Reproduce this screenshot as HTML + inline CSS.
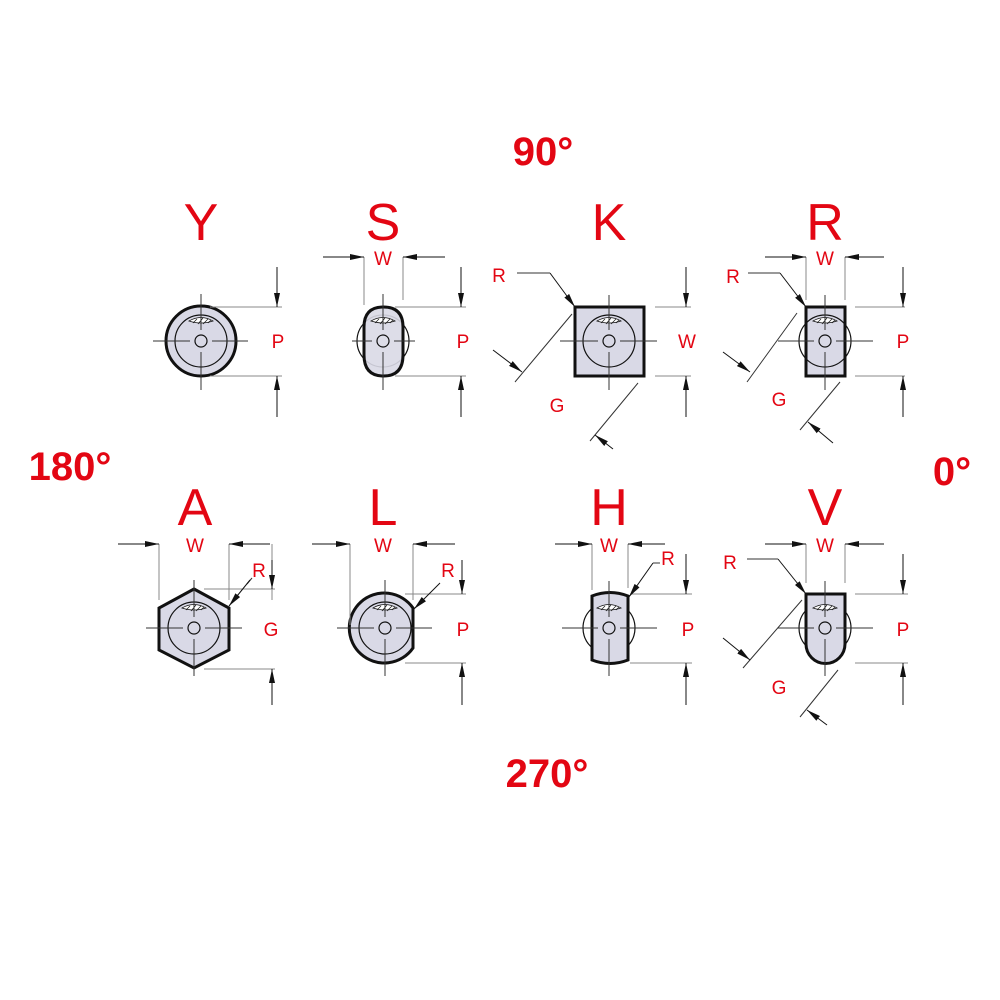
<!DOCTYPE html>
<html><head><meta charset="utf-8"><style>
html,body{margin:0;padding:0;background:#fff}
svg{display:block}
text{font-family:"Liberation Sans",sans-serif;fill:#e30613}
.big{font-size:52px}
.deg{font-size:40px;font-weight:bold}
.lb{font-size:19px}
.t{stroke:#333;stroke-width:1;fill:none}
.g{stroke:#888;stroke-width:1;fill:none}
.b{stroke:#111;stroke-width:3;fill:#d9d9e6}
.c{stroke:#111;stroke-width:1.2;fill:none}
.a{stroke:#111;stroke-width:1;fill:none;marker-end:url(#ar)}
</style></head><body>
<svg width="1000" height="1000" viewBox="0 0 1000 1000">
<defs>
<marker id="ar" viewBox="0 0 14 6" refX="14" refY="3" markerWidth="14" markerHeight="6" markerUnits="userSpaceOnUse" orient="auto"><path d="M0,0L14,3L0,6z" fill="#111"/></marker>
<g id="hub">
<circle r="6" class="c" fill="none"/>
<path d="M-12,-20 Q0,-27 12,-20 Q0,-16 -12,-20z" fill="#fff" stroke="#111" stroke-width="0.8"/>
<path d="M-8,-18 l4,-4 M-3,-17 l5,-6 M2,-17 l5,-5 M7,-18 l3,-3" stroke="#111" stroke-width="0.7"/>
</g>
</defs>

<text class="deg" x="543" y="165" text-anchor="middle">90°</text>
<text class="deg" x="70" y="480" text-anchor="middle">180°</text>
<text class="deg" x="952" y="485" text-anchor="middle">0°</text>
<text class="deg" x="547" y="787" text-anchor="middle">270°</text>

<g class="big" text-anchor="middle">
<text x="201" y="240">Y</text><text x="383" y="240">S</text><text x="609" y="240">K</text><text x="825" y="240">R</text>
<text x="195" y="525">A</text><text x="383" y="525">L</text><text x="609" y="525">H</text><text x="825" y="525">V</text>
</g>

<!-- Y -->
<circle cx="201" cy="341" r="35" class="b"/>
<circle cx="201" cy="341" r="26" class="c"/>
<use href="#hub" x="201" y="341"/>
<path class="t" d="M153,341H190M212,341H248M201,294V330M201,352V390"/>
<path class="g" d="M210,307H282M210,376H282"/>
<path class="a" d="M277,267V307"/><path class="a" d="M277,417V376"/>
<text class="lb" x="278" y="348" text-anchor="middle">P</text>

<!-- S -->
<circle cx="383" cy="341" r="26" class="c"/>
<path class="b" d="M364,327 Q364,307 383.5,307 Q403,307 403,327 V355 Q403,376 383.5,376 Q364,376 364,355Z" fill-opacity="0.9"/>
<use href="#hub" x="383" y="341"/>
<path class="t" d="M352,341H372M394,341H415M383,294V330M383,352V390"/>
<path class="g" d="M364,257V305M403,257V300M395,307H466M395,376H466"/>
<path class="a" d="M323,257H364"/><path class="a" d="M445,257H403"/>
<path class="a" d="M461,267V307"/><path class="a" d="M461,417V376"/>
<text class="lb" x="383" y="265" text-anchor="middle">W</text>
<text class="lb" x="463" y="348" text-anchor="middle">P</text>

<!-- K -->
<rect x="575" y="307" width="69" height="69" class="b"/>
<circle cx="609" cy="341" r="26" class="c"/>
<use href="#hub" x="609" y="341"/>
<path class="t" d="M560,341H598M620,341H657M609,295V330M609,352V390"/>
<path class="g" d="M655,307H691M655,376H691"/>
<path class="a" d="M686,267V307"/><path class="a" d="M686,417V376"/>
<path class="t" d="M517,273H550"/><path class="a" d="M550,273L575,307"/>
<path class="t" d="M572,314L515,382M638,383L590,441"/>
<path class="a" d="M493,350L522,372"/><path class="a" d="M613,449L595,435"/>
<text class="lb" x="499" y="282" text-anchor="middle">R</text>
<text class="lb" x="687" y="348" text-anchor="middle">W</text>
<text class="lb" x="557" y="412" text-anchor="middle">G</text>

<!-- R -->
<rect x="806" y="307" width="39" height="69" class="b"/>
<circle cx="825" cy="341" r="26" class="c"/>
<use href="#hub" x="825" y="341"/>
<path class="t" d="M778,341H814M836,341H873M825,295V330M825,352V390"/>
<path class="g" d="M806,257V300M845,257V300M855,307H905M855,376H905"/>
<path class="a" d="M765,257H806"/><path class="a" d="M884,257H845"/>
<path class="a" d="M903,267V307"/><path class="a" d="M903,417V376"/>
<path class="t" d="M748,273H780"/><path class="a" d="M780,273L806,307"/>
<path class="t" d="M797,313L747,382M840,382L800,430"/>
<path class="a" d="M723,352L750,372"/><path class="a" d="M833,443L808,422"/>
<text class="lb" x="733" y="283" text-anchor="middle">R</text>
<text class="lb" x="825" y="265" text-anchor="middle">W</text>
<text class="lb" x="903" y="348" text-anchor="middle">P</text>
<text class="lb" x="779" y="406" text-anchor="middle">G</text>

<!-- A -->
<polygon points="194,589 229,608 229,650 194,668 159,650 159,608" class="b"/>
<circle cx="194" cy="628" r="26" class="c"/>
<use href="#hub" x="194" y="628"/>
<path class="t" d="M146,628H183M205,628H242M194,580V617M194,639V676"/>
<path class="g" d="M159,544V600M229,544V600M204,589H275M204,669H275M272,544V600"/>
<path class="a" d="M118,544H159"/><path class="a" d="M270,544H229"/>
<path class="a" d="M272,560V589"/><path class="a" d="M272,705V669"/>
<path class="t" d="M252,578L247,584"/><path class="a" d="M250,580L229,606"/>
<text class="lb" x="195" y="552" text-anchor="middle">W</text>
<text class="lb" x="259" y="577" text-anchor="middle">R</text>
<text class="lb" x="271" y="636" text-anchor="middle">G</text>

<!-- L -->
<path class="b" d="M413,608 A35,35 0 1 0 413,648Z"/>
<circle cx="385" cy="628" r="26" class="c"/>
<use href="#hub" x="385" y="628"/>
<path class="t" d="M337,628H374M396,628H432M385,580V617M385,639V676"/>
<path class="g" d="M350,544V625M413,544V600M405,594H466M405,663H466"/>
<path class="a" d="M312,544H350"/><path class="a" d="M455,544H413"/>
<path class="a" d="M462,560V594"/><path class="a" d="M462,705V663"/>
<path class="a" d="M440,583L414,609"/>
<text class="lb" x="383" y="552" text-anchor="middle">W</text>
<text class="lb" x="448" y="577" text-anchor="middle">R</text>
<text class="lb" x="463" y="636" text-anchor="middle">P</text>

<!-- H -->
<circle cx="609" cy="628" r="26" class="c"/>
<path class="b" d="M592,596 Q610,589 628,596 V660 Q610,667 592,660Z"/>
<use href="#hub" x="609" y="628"/>
<path class="t" d="M562,628H598M620,628H657M609,581V617M609,639V676"/>
<path class="g" d="M592,544V590M628,544V588M630,594H692M630,663H692"/>
<path class="a" d="M555,544H592"/><path class="a" d="M665,544H628"/>
<path class="a" d="M686,554V594"/><path class="a" d="M686,705V663"/>
<path class="t" d="M660,563H653"/><path class="a" d="M653,563L629,597"/>
<text class="lb" x="609" y="552" text-anchor="middle">W</text>
<text class="lb" x="668" y="565" text-anchor="middle">R</text>
<text class="lb" x="688" y="636" text-anchor="middle">P</text>

<!-- V -->
<circle cx="825" cy="628" r="26" class="c"/>
<path class="b" d="M806,594 H845 V644 A19.5,19.5 0 0 1 806,644Z"/>
<use href="#hub" x="825" y="628"/>
<path class="t" d="M778,628H814M836,628H873M825,581V617M825,639V676"/>
<path class="g" d="M806,544V583M845,544V583M855,594H908M855,663H908"/>
<path class="a" d="M765,544H806"/><path class="a" d="M884,544H845"/>
<path class="a" d="M903,554V594"/><path class="a" d="M903,705V663"/>
<path class="t" d="M747,559H778"/><path class="a" d="M778,559L806,594"/>
<path class="t" d="M802,600L743,668M838,670L800,717"/>
<path class="a" d="M723,638L750,660"/><path class="a" d="M827,725L807,710"/>
<text class="lb" x="730" y="569" text-anchor="middle">R</text>
<text class="lb" x="825" y="552" text-anchor="middle">W</text>
<text class="lb" x="903" y="636" text-anchor="middle">P</text>
<text class="lb" x="779" y="694" text-anchor="middle">G</text>
</svg>
</body></html>
